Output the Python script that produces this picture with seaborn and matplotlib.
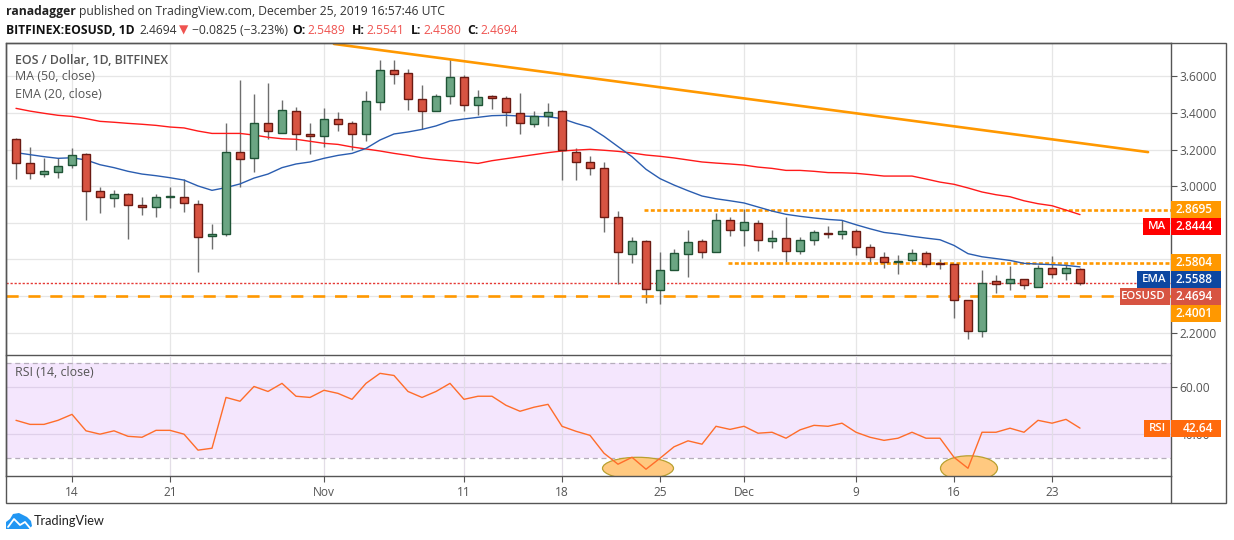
import numpy as np
import pandas as pd
import matplotlib
matplotlib.use("Agg")
import matplotlib.pyplot as plt
import matplotlib.dates as mdates
from matplotlib.patches import Rectangle, Ellipse, Polygon
from matplotlib.lines import Line2D
import seaborn as sns

# --- 1. Values ---
dates = pd.date_range("2019-10-10", "2019-12-25", freq="D")

opens = [3.256, 3.125, 3.068, 3.075, 3.113, 3.174, 2.971, 2.937, 2.955, 2.895,
         2.884, 2.939, 2.939, 2.900, 2.725, 2.736, 3.188, 3.152, 3.343, 3.288,
         3.409, 3.283, 3.272, 3.365, 3.343, 3.283, 3.458, 3.633, 3.616, 3.474,
         3.408, 3.490, 3.594, 3.441, 3.490, 3.479, 3.397, 3.337, 3.381, 3.408,
         3.184, 3.130, 3.097, 2.834, 2.627, 2.698, 2.430, 2.539, 2.627, 2.698,
         2.638, 2.813, 2.763, 2.796, 2.698, 2.714, 2.643, 2.703, 2.746, 2.736,
         2.757, 2.670, 2.615, 2.586, 2.599, 2.632, 2.579, 2.577, 2.380, 2.211,
         2.479, 2.468, 2.495, 2.451, 2.550, 2.528, 2.5489]
closes = [3.125, 3.070, 3.081, 3.108, 3.168, 2.971, 2.939, 2.955, 2.895, 2.888,
          2.939, 2.944, 2.906, 2.720, 2.736, 3.188, 3.146, 3.347, 3.299, 3.414,
          3.283, 3.272, 3.365, 3.338, 3.283, 3.463, 3.633, 3.611, 3.474, 3.408,
          3.490, 3.594, 3.441, 3.485, 3.479, 3.403, 3.343, 3.381, 3.403, 3.195,
          3.130, 3.097, 2.834, 2.638, 2.698, 2.436, 2.539, 2.632, 2.692, 2.638,
          2.813, 2.763, 2.802, 2.703, 2.714, 2.643, 2.703, 2.747, 2.736, 2.757,
          2.670, 2.615, 2.588, 2.593, 2.632, 2.577, 2.575, 2.380, 2.211, 2.473,
          2.466, 2.495, 2.457, 2.550, 2.522, 2.555, 2.4694]
highs = [3.261, 3.216, 3.155, 3.152, 3.208, 3.179, 2.997, 2.979, 2.961, 2.940,
         2.955, 2.997, 3.037, 2.922, 2.793, 3.343, 3.580, 3.503, 3.563, 3.471,
         3.431, 3.345, 3.427, 3.405, 3.354, 3.520, 3.689, 3.689, 3.640, 3.552,
         3.501, 3.692, 3.607, 3.525, 3.496, 3.492, 3.508, 3.410, 3.454, 3.414,
         3.208, 3.164, 3.130, 2.862, 2.721, 2.703, 2.640, 2.654, 2.758, 2.709,
         2.853, 2.834, 2.874, 2.813, 2.758, 2.831, 2.721, 2.758, 2.781, 2.814,
         2.768, 2.686, 2.639, 2.626, 2.654, 2.643, 2.604, 2.577, 2.380, 2.541,
         2.513, 2.562, 2.495, 2.568, 2.617, 2.577, 2.5541]
lows = [3.041, 3.041, 3.048, 3.046, 3.101, 2.815, 2.855, 2.888, 2.713, 2.844,
        2.833, 2.882, 2.860, 2.532, 2.658, 2.729, 2.997, 3.079, 3.259, 3.288,
        3.199, 3.177, 3.216, 3.303, 3.199, 3.248, 3.418, 3.560, 3.418, 3.310,
        3.408, 3.450, 3.412, 3.390, 3.423, 3.330, 3.286, 3.324, 3.330, 3.035,
        3.035, 3.062, 2.751, 2.466, 2.581, 2.363, 2.357, 2.539, 2.505, 2.607,
        2.638, 2.729, 2.674, 2.647, 2.663, 2.583, 2.630, 2.680, 2.717, 2.710,
        2.624, 2.577, 2.553, 2.521, 2.581, 2.559, 2.548, 2.278, 2.165, 2.176,
        2.417, 2.433, 2.439, 2.451, 2.499, 2.486, 2.4580]

ma50 = [3.425, 3.410, 3.398, 3.387, 3.381, 3.369, 3.354, 3.349, 3.343, 3.338,
        3.332, 3.323, 3.318, 3.301, 3.288, 3.288, 3.288, 3.279, 3.267, 3.259,
        3.256, 3.245, 3.234, 3.228, 3.214, 3.203, 3.192, 3.179, 3.168, 3.155,
        3.146, 3.139, 3.132, 3.124, 3.139, 3.150, 3.161, 3.172, 3.183, 3.192,
        3.197, 3.201, 3.196, 3.190, 3.181, 3.170, 3.163, 3.154, 3.143, 3.132,
        3.126, 3.121, 3.115, 3.104, 3.097, 3.086, 3.086, 3.081, 3.074, 3.073,
        3.070, 3.063, 3.055, 3.055, 3.055, 3.039, 3.022, 3.010, 2.990, 2.968,
        2.953, 2.942, 2.920, 2.904, 2.893, 2.869, 2.8444]
ema20 = [3.183, 3.172, 3.161, 3.152, 3.155, 3.143, 3.117, 3.101, 3.081, 3.066,
         3.057, 3.046, 3.033, 3.001, 2.977, 2.992, 3.012, 3.044, 3.066, 3.101,
         3.121, 3.132, 3.152, 3.168, 3.179, 3.206, 3.252, 3.285, 3.296, 3.310,
         3.329, 3.356, 3.367, 3.376, 3.385, 3.387, 3.383, 3.381, 3.379, 3.369,
         3.343, 3.321, 3.272, 3.216, 3.161, 3.092, 3.041, 3.006, 2.975, 2.946,
         2.931, 2.920, 2.908, 2.886, 2.864, 2.846, 2.835, 2.826, 2.818, 2.813,
         2.789, 2.767, 2.747, 2.738, 2.726, 2.716, 2.707, 2.676, 2.631, 2.614,
         2.604, 2.594, 2.578, 2.574, 2.571, 2.567, 2.5588]
rsi = [45.9, 44.2, 44.2, 45.9, 48.4, 41.5, 40.1, 41.5, 39.2, 38.8,
       41.7, 41.7, 40.1, 33.4, 34.2, 55.5, 53.9, 60.1, 58.0, 61.4,
       56.0, 55.5, 58.5, 57.2, 54.7, 61.4, 65.6, 64.7, 58.0, 55.5,
       58.0, 61.4, 54.7, 56.0, 56.0, 52.2, 49.7, 51.4, 52.6, 43.4,
       41.3, 39.6, 32.1, 27.5, 30.4, 25.4, 30.0, 34.8, 37.3, 35.9,
       43.4, 42.1, 43.4, 40.5, 40.9, 38.4, 41.9, 43.8, 43.4, 44.7,
       40.9, 38.8, 37.5, 38.4, 40.9, 38.4, 38.4, 30.4, 25.8, 40.9,
       40.9, 42.6, 40.9, 45.9, 44.7, 46.3, 42.64]

price_ticks = [2.2, 2.4, 2.6, 2.8, 3.0, 3.2, 3.4, 3.6]
# these three sit under the coloured price tags, as in the original
hidden_price_labels = [2.4, 2.6, 2.8]
rsi_ticks = [40, 60]
tick_dates = pd.to_datetime(["2019-10-14", "2019-10-21", "2019-11-01", "2019-11-11", "2019-11-18",
                             "2019-11-25", "2019-12-01", "2019-12-09", "2019-12-16", "2019-12-23"])
tick_labels = ["14", "21", "Nov", "11", "18", "25", "Dec", "9", "16", "23"]

trend_dates = pd.to_datetime(["2019-11-01 17:00", "2019-12-29 20:40"])
trend_prices = [3.777, 3.186]
support_level = 2.4001
last_close = 2.4694
level_high = 2.8695
level_high_start = pd.Timestamp("2019-11-23 20:40")
level_mid = 2.5804
level_mid_start = pd.Timestamp("2019-11-29 20:40")

W, H = 1234, 540
GREY = "#555555"
ORANGE = "#ff9800"

sns.set_theme(style="white")
plt.rcParams["font.family"] = ["Open Sans", "DejaVu Sans"]


def fx(x):
    return x / W


def fy(y):
    return 1 - y / H


def ax_box(x0, y0, x1, y1):
    return [fx(x0), fy(y1), (x1 - x0) / W, (y1 - y0) / H]


fig = plt.figure(figsize=(W / 100, H / 100), dpi=100, facecolor="white")
ax = fig.add_axes(ax_box(6, 43, 1171, 355))
ax_rsi = fig.add_axes(ax_box(6, 356, 1171, 476))

x_left = mdates.date2num(pd.Timestamp("2019-10-14")) - 66 / 14
x_right = mdates.date2num(pd.Timestamp("2019-10-14")) + 1099 / 14

# --- 2. Price pane ---
up = np.array(closes) >= np.array(opens)
body_low = np.minimum(opens, closes)
body_high = np.maximum(opens, closes)

ax.vlines(dates, lows, highs, color="#6e6e6e", lw=1.0, zorder=1.6)
ax.bar(dates[up], (body_high - body_low)[up], bottom=body_low[up], width=0.6,
       color="#6ba583", edgecolor="#1f5436", lw=1.0, zorder=3)
ax.bar(dates[~up], (body_high - body_low)[~up], bottom=body_low[~up], width=0.6,
       color="#d75442", edgecolor="#6b1a12", lw=1.0, zorder=3)

sns.lineplot(x=dates, y=ma50, ax=ax, color="#ff1a1a", lw=1.0, errorbar=None, zorder=2)
sns.lineplot(x=dates, y=ema20, ax=ax, color="#2a5db0", lw=1.0, errorbar=None, zorder=2)

ax.plot(trend_dates, trend_prices, color=ORANGE, lw=1.9, zorder=2.5, solid_capstyle="round")
ax.axhline(support_level, color=ORANGE, lw=1.9, dashes=(4.6, 3.7), zorder=1.8)
ax.axhline(last_close, color="#e53935", lw=1.0, dashes=(1.6, 1.3), zorder=1.8)
ax.plot([level_high_start, dates[-1] + pd.Timedelta(days=10)], [level_high, level_high],
        color=ORANGE, lw=1.9, dashes=(1.5, 0.9), zorder=1.8)
ax.plot([level_mid_start, dates[-1] + pd.Timedelta(days=10)], [level_mid, level_mid],
        color=ORANGE, lw=1.9, dashes=(1.5, 0.9), zorder=1.8)

ax.set_xlim(x_left, x_right)
ax.set_ylim(3.6 - (355 - 76.33) / 183, 3.6 + (76.33 - 43) / 183)
ax.yaxis.tick_right()
ax.set_yticks(price_ticks)
ax.set_yticklabels(["" if t in hidden_price_labels else f"{t:.4f}" for t in price_ticks])
ax.set_xticks(tick_dates)
ax.set_xticklabels([])
ax.tick_params(axis="x", length=0)
ax.tick_params(axis="y", length=4, width=0.8, color=GREY, labelcolor=GREY, labelsize=8.6, pad=2, right=True)
ax.grid(True, color="#e6e6e6", lw=0.9, zorder=0)
ax.set_axisbelow(True)
ax.set_xlabel("")
ax.set_ylabel("")

# --- 3. RSI pane ---
ax_rsi.axhspan(30, 70, color="#f4e6fd", lw=0, zorder=0.5)
ax_rsi.axhline(70, color="#b5adbb", lw=0.9, dashes=(4, 3), zorder=1)
ax_rsi.axhline(30, color="#b5adbb", lw=0.9, dashes=(4, 3), zorder=1)
for t in rsi_ticks:
    ax_rsi.axhline(t, color="#dfd0ea", lw=0.9, zorder=0.8)
for d in tick_dates:
    ax_rsi.axvline(d, color="#e2dde6", lw=0.9, zorder=0.8)

# ellipses marking the oversold dips
base = mdates.date2num(pd.Timestamp("2019-10-14"))
ax_rsi.add_patch(Ellipse((base + (638 - 72) / 14, 60 - (468.3 - 386.7) / 2.385), 71 / 14, 22 / 2.385,
                         facecolor="#ffc980", edgecolor="#b8a030", lw=0.9, zorder=1.5))
ax_rsi.add_patch(Ellipse((base + (969 - 72) / 14, 60 - (468.3 - 386.7) / 2.385), 57 / 14, 25 / 2.385,
                         facecolor="#ffc980", edgecolor="#b8a030", lw=0.9, zorder=1.5))

sns.lineplot(x=dates, y=rsi, ax=ax_rsi, color="#ff6d2a", lw=1.0, errorbar=None, zorder=3)

ax_rsi.set_xlim(x_left, x_right)
ax_rsi.set_ylim(60 - (476 - 386.7) / 2.385, 60 + (386.7 - 356) / 2.385)
ax_rsi.yaxis.tick_right()
ax_rsi.set_yticks(rsi_ticks)
ax_rsi.set_yticklabels([f"{t:.2f}" for t in rsi_ticks])
ax_rsi.set_xticks(tick_dates)
ax_rsi.set_xticklabels(tick_labels)
ax_rsi.tick_params(axis="x", length=4, width=0.8, color=GREY, labelcolor=GREY, labelsize=8.6, pad=3, bottom=True)
ax_rsi.tick_params(axis="y", length=4, width=0.8, color=GREY, labelcolor=GREY, labelsize=8.6, pad=2, right=True)
ax_rsi.set_xlabel("")
ax_rsi.set_ylabel("")

for a in (ax, ax_rsi):
    for s in a.spines.values():
        s.set_color(GREY)
        s.set_linewidth(1.0)
    a.patch.set_alpha(0)
ax_rsi.spines["top"].set_visible(False)

# outer frame around the date and price strips
fig.add_artist(Rectangle((fx(6), fy(503)), 1220 / W, 460 / H, transform=fig.transFigure,
                         facecolor="none", edgecolor=GREY, lw=1.0, zorder=1))
fig.add_artist(Line2D([fx(1171), fx(1171)], [fy(476), fy(503)], color=GREY, lw=1.0, zorder=1))


# --- 4. Text on the chart ---
def label(x, y, s, **kw):
    return fig.text(fx(x), fy(y), s, va="center", ha="left", zorder=8, **kw)


def runs(x, y, parts):
    renderer = fig.canvas.get_renderer()
    for s, color, weight, gap in parts:
        t = label(x, y, s, color=color, fontweight=weight, fontsize=8.7)
        x += t.get_window_extent(renderer).width + gap


RED = "#ef5350"
runs(6, 12, [("ranadagger", "#222222", "bold", 3.5),
             ("published on TradingView.com, December 25, 2019 16:57:46 UTC", "#333333", "normal", 0)])
runs(6, 30, [("BITFINEX:EOSUSD, 1D", "#111111", "bold", 5),
             ("2.4694", "#333333", "normal", 2), ("▼", RED, "normal", 3),
             ("−0.0825 (−3.23%)", "#333333", "normal", 5),
             ("O:", "#111111", "bold", 2), (f"{opens[-1]:.4f}", RED, "normal", 6),
             ("H:", "#111111", "bold", 2), (f"{highs[-1]:.4f}", RED, "normal", 6),
             ("L:", "#111111", "bold", 2), (f"{lows[-1]:.4f}", RED, "normal", 6),
             ("C:", "#111111", "bold", 2), (f"{closes[-1]:.4f}", RED, "normal", 0)])

label(15, 60, "EOS / Dollar, 1D, BITFINEX", color=GREY, fontsize=8.9, fontweight="semibold")
label(15, 77, "MA (50, close)", color=GREY, fontsize=8.9)
label(15, 94, "EMA (20, close)", color=GREY, fontsize=8.9)
label(15, 373, "RSI (14, close)", color=GREY, fontsize=8.9)


# --- 5. Price tags on the right ---
def tag(y_top, y_bot, value, color, name=None, name_left=None):
    fig.add_artist(Rectangle((fx(1171), fy(y_bot)), 50 / W, (y_bot - y_top) / H, transform=fig.transFigure,
                             facecolor=color, edgecolor="none", zorder=6))
    fig.text(fx(1213), fy((y_top + y_bot) / 2), value, color="white", fontsize=8.6, fontweight="semibold",
             ha="right", va="center", zorder=8)
    if name:
        fig.add_artist(Rectangle((fx(name_left), fy(y_bot)), (1170 - name_left) / W, (y_bot - y_top) / H,
                                 transform=fig.transFigure, facecolor=color, edgecolor="none", zorder=6))
        fig.text(fx(1166), fy((y_top + y_bot) / 2), name, color="white", fontsize=8.2, fontweight="semibold",
                 ha="right", va="center", zorder=8)


tag(201, 218, f"{level_high:.4f}", ORANGE)
tag(218, 235, f"{ma50[-1]:.4f}", "#ff0000", "MA", 1143)
tag(254, 271, f"{level_mid:.4f}", ORANGE)
tag(271, 288, f"{ema20[-1]:.4f}", "#0d47a1", "EMA", 1137)
tag(288, 305, f"{last_close:.4f}", "#d75442", "EOSUSD", 1120)
tag(305, 322, f"{support_level:.4f}", ORANGE)
tag(420, 437, f"{rsi[-1]:.2f}", "#ff6a0d", "RSI", 1144)

# --- 6. Logo ---
cloud = [(6, 529), (6, 522), (10, 519), (13, 514), (19, 513), (23, 515), (27, 517),
         (31, 521), (32, 526), (29, 529)]
fig.add_artist(Polygon([(fx(a), fy(b)) for a, b in cloud], closed=True, transform=fig.transFigure,
                       facecolor="#2196f3", edgecolor="none", zorder=6))
fig.add_artist(Line2D([fx(8), fx(14), fx(20), fx(25), fx(30)], [fy(527), fy(519), fy(525), fy(522), fy(528)],
                      color="white", lw=1.3, zorder=7))
label(34, 521, "TradingView", color="#222222", fontsize=9.2, family=["Lato", "DejaVu Sans"])

fig.savefig("out.png", dpi=100)
